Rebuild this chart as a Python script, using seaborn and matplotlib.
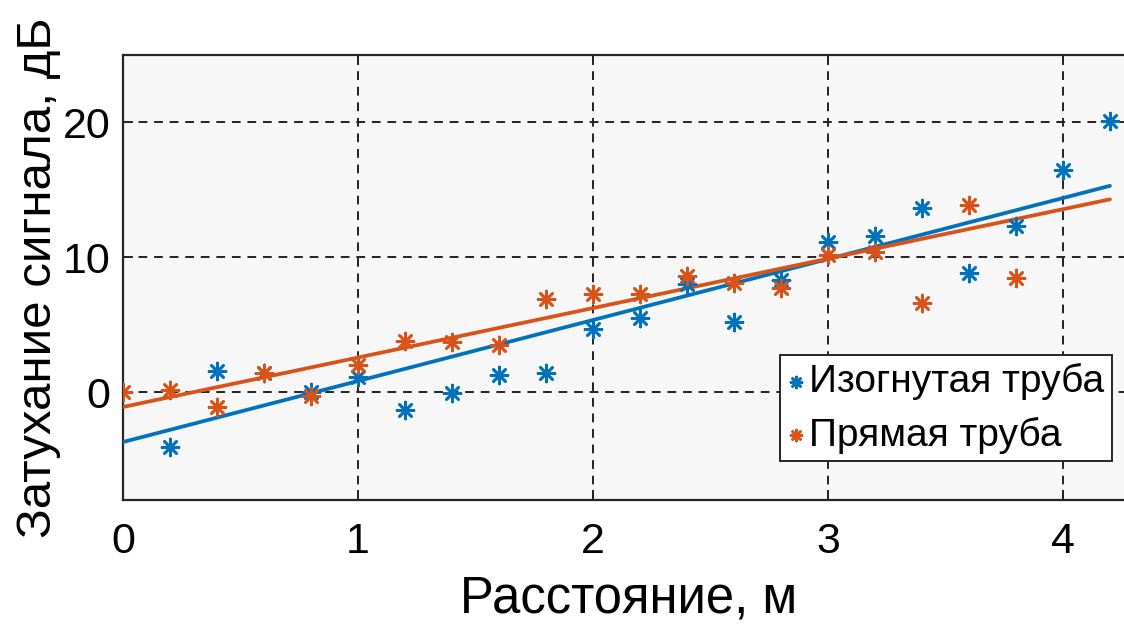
import numpy as np
import pandas as pd
import matplotlib
matplotlib.use('Agg')
import matplotlib.pyplot as plt
import seaborn as sns

# measured points
x_bent = [0.2, 0.4, 0.6, 0.8, 1.0, 1.2, 1.4, 1.6, 1.8, 2.0, 2.2, 2.4, 2.6, 2.8,
          3.0, 3.2, 3.4, 3.6, 3.8, 4.0, 4.2]
y_bent = [-4.1, 1.55, 1.4, 0.0, 1.1, -1.3, -0.1, 1.25, 1.4, 4.7, 5.5, 8.0, 5.2, 8.3,
          11.1, 11.6, 13.65, 8.8, 12.3, 16.5, 20.1]
x_straight = [0.0, 0.2, 0.4, 0.6, 0.8, 1.0, 1.2, 1.4, 1.6, 1.8, 2.0, 2.2, 2.4, 2.6,
              2.8, 3.0, 3.2, 3.4, 3.6, 3.8]
y_straight = [0.0, 0.15, -1.1, 1.4, -0.3, 2.0, 3.8, 3.75, 3.5, 6.9, 7.3, 7.3, 8.6, 8.1,
              7.75, 10.2, 10.4, 6.6, 13.9, 8.5]

# fit lines (end points)
fit_x = [0.0, 4.2]
fit_bent = [-3.7, 15.3]
fit_straight = [-1.1, 14.3]

labels = ['Изогнутая труба', 'Прямая труба']
xticks = [0, 1, 2, 3, 4]
yticks = [0, 10, 20]

blue = '#0072BD'
orange = '#D95319'

sns.set_theme(style='ticks')
plt.rcParams['font.family'] = ['Liberation Sans', 'DejaVu Sans']
plt.rcParams['text.color'] = 'black'
plt.rcParams['axes.labelcolor'] = 'black'

fig = plt.figure(figsize=(11.24, 6.24), dpi=100)
ax = fig.add_axes([0.1094, 0.1987, 0.899, 0.7131])
ax.set_facecolor('#f7f7f7')

df_b = pd.DataFrame({'x': x_bent, 'y': y_bent})
df_s = pd.DataFrame({'x': x_straight, 'y': y_straight})
fb = pd.DataFrame({'x': fit_x, 'y': fit_bent})
fs = pd.DataFrame({'x': fit_x, 'y': fit_straight})

sns.lineplot(data=fb, x='x', y='y', color=blue, lw=2.7, ax=ax, legend=False, zorder=3)
sns.lineplot(data=fs, x='x', y='y', color=orange, lw=2.7, ax=ax, legend=False, zorder=3)
sns.scatterplot(data=df_b, x='x', y='y', marker=(8, 2, 0), s=150, color=blue,
                edgecolor=blue, linewidth=1.9, ax=ax, label=labels[0], zorder=4)
sns.scatterplot(data=df_s, x='x', y='y', marker=(8, 2, 0), s=150, color=orange,
                edgecolor=orange, linewidth=1.9, ax=ax, label=labels[1], zorder=4)

ax.set_xlim(0, 4.3)
ax.set_ylim(-8, 25)
ax.set_xticks(xticks)
ax.set_yticks(yticks)
ax.grid(True, color='#222222', linestyle=(0, (4.5, 3.5)), linewidth=1.4)
ax.set_axisbelow(True)
ax.tick_params(direction='in', length=7, width=1.4, labelsize=31,
               top=True, right=True, colors='#262626', labelcolor='black')
ax.tick_params(axis='x', pad=16)
ax.tick_params(axis='y', pad=9)
for sp in ax.spines.values():
    sp.set_color('#262626')
    sp.set_linewidth(1.6)

ax.set_xlabel('Расстояние, м', fontsize=36.5, labelpad=9)
ax.set_ylabel('Затухание сигнала, дБ', fontsize=35.5, labelpad=1)

leg = ax.legend(loc='upper left', bbox_to_anchor=(0.65, 0.325), borderaxespad=0,
                fontsize=28, handlelength=0.45, handletextpad=0.1, labelspacing=0.42,
                borderpad=0.2, frameon=True, fancybox=False, markerscale=0.65)
leg.get_frame().set_edgecolor('#262626')
leg.get_frame().set_linewidth(1.4)
leg.get_frame().set_facecolor('#ffffff')
leg.get_frame().set_alpha(1)

fig.savefig('out.png', dpi=100, facecolor='white')
